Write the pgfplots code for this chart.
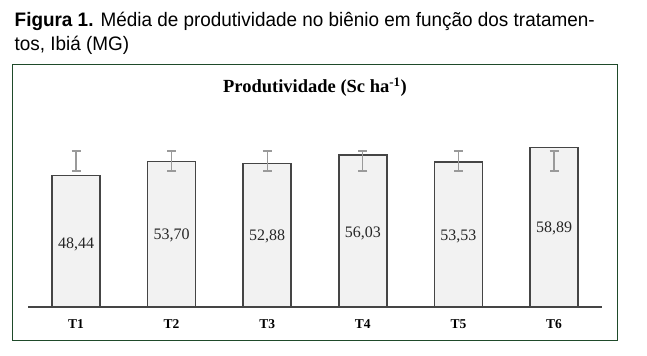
\documentclass[border=0pt]{standalone}
\usepackage{pgfplots}
\pgfplotsset{compat=1.18}
\usepackage{fontspec}
\setmainfont{Liberation Serif}
\newfontfamily\capfont[FakeStretch=0.97]{Liberation Sans}
\definecolor{framegreen}{HTML}{1F4A2A}
\definecolor{barfill}{HTML}{F2F2F2}
\definecolor{bardraw}{HTML}{454545}
\definecolor{errgray}{HTML}{9A9A9A}
\begin{document}
\begin{tikzpicture}[x=1bp,y=1bp]
\path[use as bounding box] (0,0) rectangle (647,355);
% caption
\node[anchor=base west, inner sep=0pt, font=\capfont\fontsize{19.5bp}{22bp}\selectfont] at (14.5,328.3)
  {\textbf{Figura 1.} Média de produtividade no biênio em função dos tratamen-};
\node[anchor=base west, inner sep=0pt, font=\capfont\fontsize{19.5bp}{22bp}\selectfont] at (14.5,304.5)
  {tos, Ibiá (MG)};
% frame
\draw[framegreen, line width=1.4bp] (12.3,14.7) rectangle (617.3,290.7);
% chart title
\node[anchor=base, inner sep=0pt, font=\bfseries\fontsize{18.5bp}{21bp}\selectfont] at (315,262.7)
  {Produtividade (Sc ha\textsuperscript{-1})};
\begin{axis}[
  at={(76bp,48bp)}, anchor=origin,
  scale only axis, width=573.6bp, height=189.7bp,
  xmin=-0.5, xmax=5.5, ymin=0, ymax=70,
  axis x line=bottom, axis y line=none,
  axis line style={-, draw=bardraw, line width=1.6bp},
  xtick={0,1,2,3,4,5},
  xticklabels={T1,T2,T3,T4,T5,T6},
  major tick length=0pt,
  xticklabel style={font=\bfseries\fontsize{13.5bp}{15bp}\selectfont, yshift=-9bp},
  clip=false,
]
\addplot[ybar, bar width=48bp, fill=barfill, draw=bardraw, line width=1.5bp]
  coordinates {(0,48.44) (1,53.70) (2,52.88) (3,56.03) (4,53.53) (5,58.89)};
\addplot[draw=none, mark=none,
  error bars/.cd, y dir=both, y explicit,
  error bar style={draw=errgray, line width=1.3bp},
  error mark options={draw=errgray, rotate=90, mark size=4.5bp, line width=1.2bp}]
  coordinates {(0,53.87) +- (0,3.69) (1,53.87) +- (0,3.69) (2,53.87) +- (0,3.69)
               (3,53.87) +- (0,3.69) (4,53.87) +- (0,3.69) (5,53.87) +- (0,3.69)};
\addplot[draw=none, mark=none, nodes near coords, point meta=explicit symbolic,
  nodes near coords style={anchor=center, font=\fontsize{16bp}{18bp}\selectfont, text=black!85}]
  coordinates {(0,23.1) [48,44] (1,26.6) [53,70] (2,25.9) [52,88]
               (3,27.2) [56,03] (4,26.2) [53,53] (5,29.0) [58,89]};
\end{axis}
\end{tikzpicture}
\end{document}
